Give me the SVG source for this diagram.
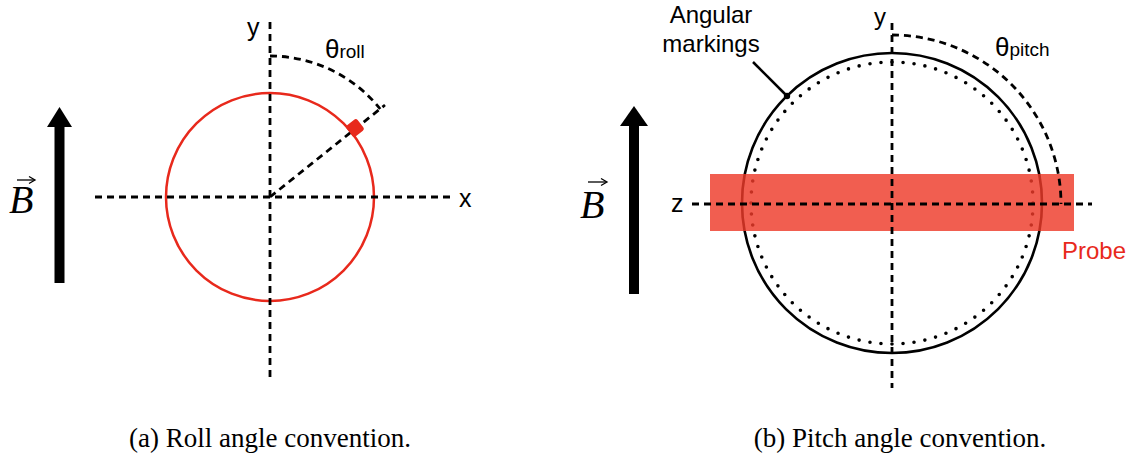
<svg xmlns="http://www.w3.org/2000/svg" width="1137" height="459" viewBox="0 0 1137 459">
<style>
.ax{fill:none;stroke:#000;stroke-width:2.8;stroke-dasharray:7 5}
.lbl{font-family:"Liberation Sans",Arial,sans-serif;fill:#000}
.cap{font-family:"Liberation Serif","Times New Roman",serif;font-size:27px;fill:#000}
.bvec{font-family:"Liberation Serif","Times New Roman",serif;font-style:italic;font-size:40px;fill:#000}
.red{fill:#E8291C}
</style>
<rect width="1137" height="459" fill="#fff"/>

<!-- Figure (a) -->
<g id="field-a">
  <rect x="54.5" y="126" width="10" height="157" fill="#000"/>
  <polygon points="47,127 72,127 59.5,107" fill="#000"/>
  <text class="bvec" x="9" y="213">B</text>
  <line x1="17" y1="180" x2="34" y2="180" stroke="#000" stroke-width="1.3"/>
  <path d="M29,176.5 L35,180 L29,183.5" fill="none" stroke="#000" stroke-width="1.3"/>
</g>
<g id="roll-circle">
  <circle cx="270" cy="197" r="104" fill="none" stroke="#E8291C" stroke-width="2.5"/>
</g>
<g id="connectors-a">
  <line class="ax" x1="270" y1="22" x2="270" y2="378"/>
  <line class="ax" x1="95" y1="197" x2="450" y2="197"/>
  <line class="ax" x1="270" y1="197" x2="385" y2="105"/>
  <path class="ax" d="M270,56 A141,141 0 0 1 380.2,109"/>
</g>
<g id="roll-marker">
  <rect x="348" y="121" width="14" height="14" rx="2.5" class="red" transform="rotate(-38.7 355 128)"/>
</g>
<g id="labels-a">
  <text class="lbl" x="247" y="36" font-size="25">y</text>
  <text class="lbl" x="459" y="207" font-size="25">x</text>
  <text class="lbl" x="325" y="58" font-size="26">θ<tspan font-size="19">roll</tspan></text>
</g>
<g id="caption-a">
  <text class="cap" x="270" y="447" text-anchor="middle">(a) Roll angle convention.</text>
</g>

<!-- Figure (b) -->
<g id="field-b">
  <rect x="629" y="125" width="10" height="169" fill="#000"/>
  <polygon points="620,126 648,126 634,106" fill="#000"/>
  <text class="bvec" x="580" y="218">B</text>
  <line x1="588" y1="182" x2="606" y2="182" stroke="#000" stroke-width="1.3"/>
  <path d="M601,178.5 L607,182 L601,185.5" fill="none" stroke="#000" stroke-width="1.3"/>
</g>
<g id="pitch-circle">
  <circle cx="892" cy="203" r="150" fill="none" stroke="#000" stroke-width="2.6"/>
</g>
<g id="angular-markings">
  <circle cx="892" cy="203" r="141" fill="none" stroke="#000" stroke-width="3.6" stroke-linecap="round" stroke-dasharray="0 11.07"/>
</g>
<g id="probe">
  <rect x="710" y="174" width="364" height="57" fill="#EE3B2A" fill-opacity="0.82"/>
  <text class="lbl" x="1062" y="259" font-size="24" style="fill:#E8291C">Probe</text>
</g>
<g id="connectors-b">
  <line class="ax" x1="892" y1="23" x2="892" y2="388"/>
  <line class="ax" x1="692" y1="204" x2="1092" y2="204"/>
  <path class="ax" d="M892,35 A169,169 0 0 1 1061,204"/>
  <line x1="753" y1="62" x2="787" y2="96" stroke="#000" stroke-width="2.5"/>
  <circle cx="787" cy="96" r="3.2" fill="#000"/>
</g>
<g id="labels-b">
  <text class="lbl" x="711" y="23" font-size="24" text-anchor="middle">Angular</text>
  <text class="lbl" x="711" y="52" font-size="24" text-anchor="middle">markings</text>
  <text class="lbl" x="874" y="25" font-size="24">y</text>
  <text class="lbl" x="671" y="212" font-size="25">z</text>
  <text class="lbl" x="995" y="56" font-size="26">θ<tspan font-size="19">pitch</tspan></text>
</g>
<g id="caption-b">
  <text class="cap" x="900" y="447" text-anchor="middle">(b) Pitch angle convention.</text>
</g>
</svg>
